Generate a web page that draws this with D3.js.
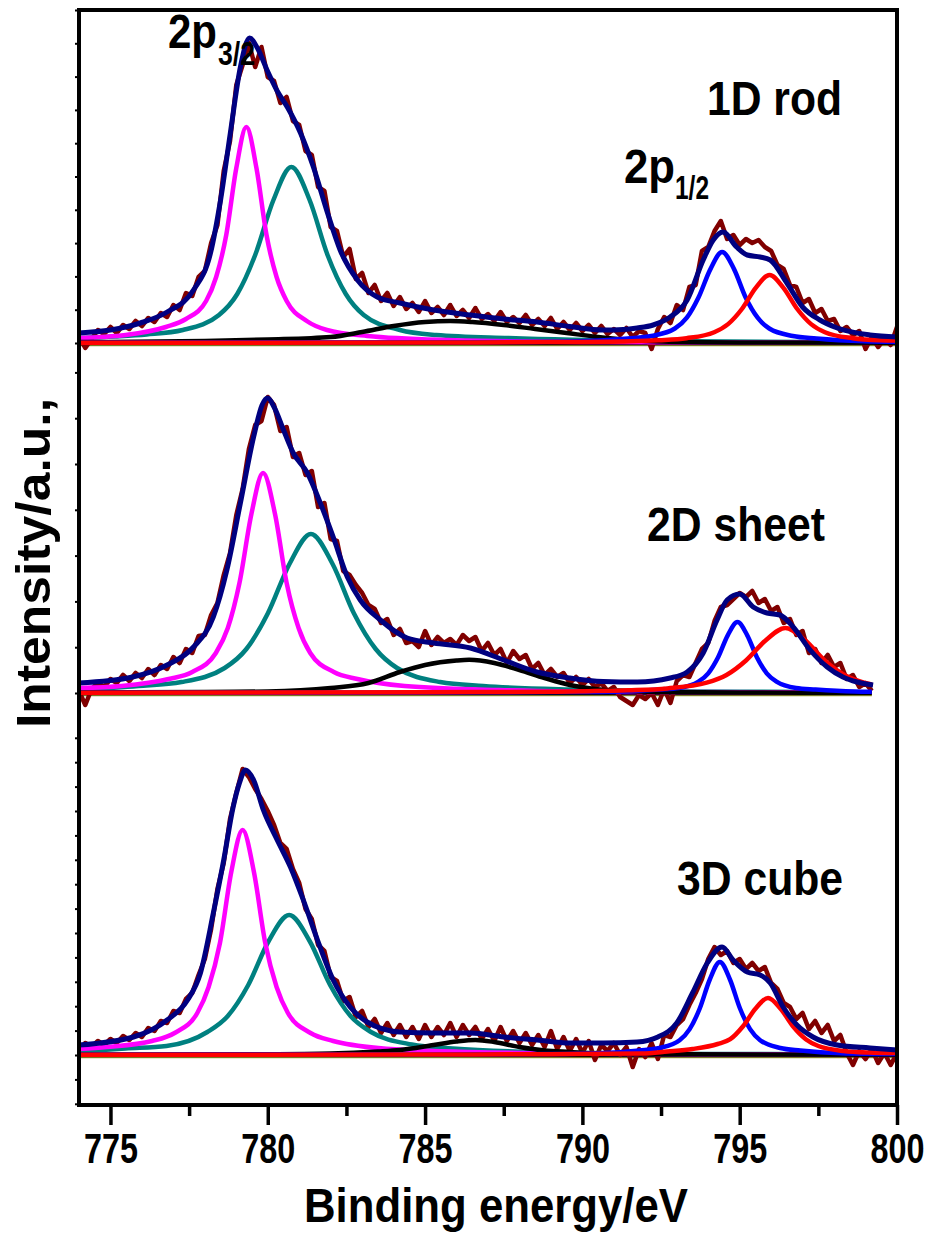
<!DOCTYPE html>
<html>
<head>
<meta charset="utf-8">
<script src="https://cdn.jsdelivr.net/npm/d3@7/dist/d3.min.js"></script>
<style>
  body { margin: 0; background: #fff; }
  text { font-family: "Liberation Sans", Arial, sans-serif; font-weight: bold; fill: #000; }
</style>
</head>
<body>
<svg id="chart" width="935" height="1236"></svg>
<script>
// ---- data (intensity in a.u., binding energy in eV) ----
var xTicksMajor = [775, 780, 785, 790, 795, 800];
var xTicksMinor = [777.5, 782.5, 787.5, 792.5, 797.5];
var panelLabels = ['1D rod', '2D sheet', '3D cube'];
var tickSteps = [33.3, 45.8, 24.4];
var rawStart = 774, rawStep = 0.2;

// measured spectra, one value per 0.2 eV from 774 eV
var rodRaw = [6,-5,4,13,9,16,10,18,14,22,
  17,25,21,30,26,38,33,50,47,66,
  72,100,118,172,202,258,278,300,276,296,
  266,262,240,246,222,218,192,188,156,152,
  116,112,86,94,64,70,50,58,42,50,
  37,46,34,40,31,42,30,36,28,38,
  27,33,25,35,24,29,22,31,21,26,
  20,28,18,24,17,25,14,21,13,20,
  12,18,10,17,9,14,8,15,6,12,
  10,-6,14,26,20,38,33,56,58,92,
  96,112,122,104,108,98,104,100,103,96,
  92,78,74,58,56,40,44,30,34,22,
  24,12,16,8,12,-6,6,-4,4,-2,
  16];
var sheetRaw = [2,-12,4,10,6,14,10,18,12,20,
  15,24,18,28,24,36,30,44,40,57,
  58,78,90,118,140,178,204,244,268,272,
  296,288,262,266,236,240,218,222,186,190,
  154,152,122,118,108,100,88,84,70,74,
  58,64,50,52,46,62,48,56,50,54,
  48,58,52,56,42,50,38,44,30,42,
  34,38,24,30,18,24,16,20,10,16,
  8,14,6,10,2,6,-4,-8,-12,-2,
  -6,0,-12,4,-10,12,18,16,30,44,
  50,72,86,88,94,100,96,102,90,94,
  82,86,70,74,58,62,40,44,30,38,
  26,30,14,18,6,10,2];
var cubeRaw = [4,12,8,14,10,16,12,19,15,22,
  18,27,24,34,32,44,42,56,62,80,
  96,126,166,192,236,262,286,278,266,256,
  244,230,212,206,186,172,146,136,110,104,
  78,74,54,58,38,44,28,36,22,32,
  20,30,18,28,16,30,18,28,20,32,
  18,30,20,28,16,26,14,28,14,24,
  12,22,10,20,8,24,6,18,4,16,
  2,14,-5,10,4,12,0,8,-12,6,
  -2,12,-4,20,18,30,36,50,62,76,
  96,108,100,104,92,96,86,92,84,88,
  72,66,52,48,36,42,26,34,22,30,
  14,20,2,-10,4,-4,6,-8,2,-10,
  2];

// fitted envelopes
var rodFit = [[774,10],[775,13],[775.95,20],[776.8,31],[777.64,53],[778.18,90],[778.5,143],[778.81,210],[779.13,276],[779.42,305],[779.67,295],[779.99,272],[780.3,252],[780.62,236],[781.04,210],[781.45,176],[781.9,130],[782.3,93],[782.85,63],[783.48,46],[784.2,40],[785.27,33],[786.44,28],[787.5,24],[788.56,21],[789.6,16.5],[790.66,13],[791.3,13.5],[791.74,15],[792.25,18],[792.79,26],[793.33,43],[793.84,83],[794.16,103],[794.47,111],[794.9,96],[795.24,88],[795.65,86],[795.97,83],[796.5,60],[797,36],[797.55,23],[798.1,15],[799.14,8],[800,6]];
var sheetFit = [[774,10],[775.7,16],[776.8,28],[777.64,46],[778.27,76],[778.7,123],[779.13,190],[779.55,256],[779.82,288],[780,295],[780.2,286],[780.5,263],[780.81,240],[781.26,220],[781.67,190],[782.08,156],[782.53,116],[782.94,93],[783.58,73],[784.43,55],[785.27,50],[786.44,45],[787.5,33],[788.56,21],[789.6,15],[790.66,11.5],[791.74,11],[792.79,15],[793.33,21],[793.84,40],[794.28,73],[794.6,93],[795,99],[795.43,86],[795.87,80],[796.28,78],[796.7,66],[797.24,43],[797.78,26],[798.28,16],[798.73,11],[799.24,8]];
var cubeFit = [[774,10],[775.73,18],[776.8,35],[777.45,55],[777.86,82],[778.27,142],[778.6,195],[778.9,248],[779.1,272],[779.29,285],[779.55,275],[779.86,245],[780.3,215],[780.72,188],[781.13,155],[781.58,115],[782.08,75],[782.62,48],[783.16,33],[784.2,23],[785.27,22],[786.44,22],[787.5,18],[788.56,15],[789.6,12],[790.66,12],[791.74,13],[792.4,18],[793,32],[793.5,62],[793.97,92],[794.44,108],[794.79,95],[795.24,83],[795.65,80],[795.97,72],[796.38,48],[796.82,30],[797.33,18],[798.1,10],[799.14,7],[800,5]];

// fitted components: 2p3/2 (a, b), satellite, 2p1/2 (c, d)
var rodA = [[774,5],[775.48,8],[776.76,16],[777.4,24],[778.04,42],[778.36,66],[778.68,108],[779,175],[779.32,216],[779.64,175],[779.96,108],[780.28,66],[780.6,42],[781.24,22],[781.88,13],[783.16,7],[785.72,3],[790,1],[800,0.3]];
var rodB = [[774,5],[775.15,6.5],[776.15,8.5],[777.3,13],[778.45,28],[779.03,49],[779.6,88],[780.18,143],[780.75,176],[781.33,143],[781.9,88],[782.48,49],[783.05,28],[784.2,13],[785.35,8],[787.65,5],[792.25,2],[800,0.5]];
var rodSat = [[774,1],[778,2],[780,3.5],[782,6],[783,11],[784,17],[785,21],[785.8,22],[786.5,21],[787.5,18],[788.5,14],[789.5,10],[790.5,6],[791.5,3],[792.5,1.5],[795,0.6],[800,0.3]];
var rodC = [[774,0.3],[785,0.8],[788.44,1],[789.94,1.7],[791.44,4.5],[792.19,7],[792.94,14.5],[793.32,25.3],[793.69,45.5],[794.07,73.9],[794.44,91],[794.82,73.9],[795.19,45.5],[795.57,25.3],[795.94,14.5],[796.69,7],[797.44,4.5],[798.94,1.7],[800,1.1]];
var rodD = [[774,0.2],[785,0.5],[789,0.9],[791.55,1.8],[792.43,2.8],[793.31,4.8],[794.19,10.8],[794.63,18.9],[795.07,34],[795.51,55.2],[795.95,68],[796.39,55.2],[796.83,34],[797.27,18.9],[797.71,10.8],[798.59,4.8],[799.47,2.8],[800,2.5]];

var sheetA = [[774,5],[775.35,7],[776.85,14],[777.6,21],[778.35,40],[778.73,65],[779.1,110],[779.48,179],[779.85,220],[780.23,179],[780.6,110],[780.98,65],[781.35,40],[782.1,21],[782.85,14],[784.35,7],[787.35,3],[792,1],[799.2,0.5]];
var sheetB = [[774,3.5],[775.89,7],[777.26,11],[778.63,25],[779.32,44],[780,79.5],[780.69,129],[781.37,159],[782.06,129],[782.74,79.5],[783.43,44],[784.11,25],[785.48,11],[786.85,7],[789.6,3.5],[795,1.2],[799.2,0.8]];
var sheetSat = [[774,0.5],[778,1],[780,1.5],[782,5],[783.2,10],[784.2,21],[785,28],[786,32.5],[786.4,33.2],[787.2,30],[788,23],[788.8,15],[789.6,8],[790.4,4],[791.2,2],[792.5,1],[795,0.5],[799.2,0.3]];
var sheetC = [[774,0.2],[785,0.5],[789,0.9],[790.59,1],[791.21,1.4],[792.45,3.5],[793.07,5],[793.69,11.3],[794,19.7],[794.31,35.5],[794.62,57.7],[794.93,71],[795.24,57.7],[795.55,35.5],[795.86,19.7],[796.17,11.3],[796.79,5],[797.41,3.5],[798.65,1.5],[799.2,1.2]];
var sheetD = [[774,0.3],[785,0.8],[789,1.3],[790.2,1.8],[791.45,2.7],[792.7,4.6],[793.95,10.3],[794.58,18],[795.2,32.5],[795.83,52.8],[796.45,65],[797.08,52.8],[797.7,32.5],[798.33,18],[798.95,10.3],[799.2,8.5]];

var cubeA = [[774,6],[774.88,8],[776.32,14],[777.04,22],[777.76,42],[778.12,68],[778.48,112],[778.84,183],[779.2,225],[779.56,183],[779.92,112],[780.28,68],[780.64,42],[781.36,22],[782.08,14],[783.52,7],[786.4,3],[792,1],[800,0.5]];
var cubeB = [[774,3.5],[775.48,6.5],[776.78,9],[778.08,23],[778.73,39],[779.38,70],[780.03,114],[780.68,140],[781.33,114],[781.98,70],[782.63,39],[783.28,23],[784.58,10.5],[785.88,6.5],[788.48,3],[794,1],[800,0.6]];
var cubeSat = [[774,0.3],[780,0.8],[782,1.5],[783.5,3.5],[784.2,5],[785.27,10],[786,13.5],[786.6,15],[787.2,13],[788,8],[788.8,4.5],[789.6,3],[790.5,1.5],[792,0.8],[800,0.3]];
var cubeC = [[774,0.2],[785,0.6],[789,1],[790.53,1.8],[791.81,4.5],[792.45,7],[793.09,14.8],[793.41,25.9],[793.73,46.5],[794.05,75.5],[794.37,93],[794.69,75.5],[795.01,46.5],[795.33,25.9],[795.65,14.8],[796.29,7],[796.93,4.5],[798.21,1.8],[800,1]];
var cubeD = [[774,0.2],[785,0.4],[789,0.8],[791.9,1.5],[792.7,3.5],[793.5,6],[794.3,11],[794.7,15.8],[795.1,28.5],[795.5,46.3],[795.9,57],[796.3,46.3],[796.7,28.5],[797.1,15.8],[797.5,9],[798.3,4],[799.1,2.5],[800,2]];

// backgrounds
var rodBg = [[774,0],[800,0]];
var sheetBg = [[774,0],[799.2,0]];
var cubeBg = [[774,0],[800,0]];
var baseOffset = -2.5;

// ---- layout ----
var svg = d3.select('#chart');
var frame = {left: 79, right: 897, top: 10, bottom: 1105};
// [top px, bottom px, zero px] of each stacked panel
var boxes = [[10, 360, 343], [360, 720, 693], [720, 1105, 1055]];
var compColors = ['#ff00ff', '#008080', '#000000', '#0000ff', '#ff0000'];

var x = d3.scaleLinear().domain([774, 800]).range([frame.left, frame.right]);

var panels = [
    {raw: rodRaw, fit: rodFit, comps: [rodB, rodA, rodSat, rodC, rodD], bg: rodBg},
    {raw: sheetRaw, fit: sheetFit, comps: [sheetB, sheetA, sheetSat, sheetC, sheetD], bg: sheetBg},
    {raw: cubeRaw, fit: cubeFit, comps: [cubeB, cubeA, cubeSat, cubeC, cubeD], bg: cubeBg}
];
var compOrder = [1, 0, 2, 3, 4]; // colour index for each comps entry

panels.forEach(function(p, i){
    var box = boxes[i];
    var y = d3.scaleLinear()
        .domain([-(box[1] - box[2]), box[2] - box[0]])
        .range([box[1], box[0]]);

    var smooth = d3.line()
        .x(function(d){ return x(d[0]); })
        .y(function(d){ return y(d[1]); })
        .curve(d3.curveMonotoneX);

    var g = svg.append('g').attr('class', 'panel');

    // background lines
    g.append('path')
        .attr('d', smooth(p.bg.map(function(d){ return [d[0], d[1] + baseOffset]; })))
        .attr('fill', 'none').attr('stroke', '#a0a030').attr('stroke-width', 1.5);
    g.append('path')
        .attr('d', smooth(p.bg))
        .attr('fill', 'none').attr('stroke', '#000').attr('stroke-width', 4.5);

    // raw spectrum
    var rawPts = p.raw.map(function(v, k){ return [rawStart + k * rawStep, v]; });
    g.append('path')
        .attr('d', d3.line()
            .x(function(d){ return x(d[0]); })
            .y(function(d){ return y(d[1]); })(rawPts))
        .attr('fill', 'none')
        .attr('stroke', '#800000')
        .attr('stroke-width', 4.5)
        .attr('stroke-linejoin', 'round');

    // components
    p.comps.forEach(function(c, k){
        g.append('path')
            .attr('d', smooth(c))
            .attr('fill', 'none')
            .attr('stroke', compColors[compOrder[k]])
            .attr('stroke-width', 4.5)
            .attr('stroke-linejoin', 'round');
    });

    // envelope
    g.append('path')
        .attr('d', smooth(p.fit))
        .attr('fill', 'none')
        .attr('stroke', '#000080')
        .attr('stroke-width', 5)
        .attr('stroke-linejoin', 'round');

    // small left ticks
    var step = tickSteps[i];
    var tv = d3.range(Math.ceil(y.domain()[0] / step), Math.floor(y.domain()[1] / step) + 1)
        .map(function(k){ return k * step; });
    var ax = svg.append('g')
        .attr('transform', 'translate(' + frame.left + ',0)')
        .call(d3.axisLeft(y).tickValues(tv).tickSize(4).tickFormat(''));
    ax.select('.domain').remove();
    ax.selectAll('line').attr('stroke-width', 2);
});

// x axis
var xAxis = svg.append('g')
    .attr('transform', 'translate(0,' + frame.bottom + ')')
    .call(d3.axisBottom(x).tickValues(xTicksMajor).tickSize(20).tickFormat(d3.format('d')));
xAxis.select('.domain').remove();
xAxis.selectAll('line').attr('stroke', '#000').attr('stroke-width', 3.5);
xAxis.selectAll('text')
    .attr('y', 58).attr('dy', 0)
    .attr('font-size', 42)
    .attr('textLength', 54)
    .attr('lengthAdjust', 'spacingAndGlyphs')
    .style('font-family', '"Liberation Sans", Arial, sans-serif')
    .style('font-weight', 'bold');

var xMinor = svg.append('g')
    .attr('transform', 'translate(0,' + frame.bottom + ')')
    .call(d3.axisBottom(x).tickValues(xTicksMinor).tickSize(11).tickFormat(''));
xMinor.select('.domain').remove();
xMinor.selectAll('line').attr('stroke', '#000').attr('stroke-width', 3.5);

// frame
svg.append('rect')
    .attr('x', frame.left).attr('y', frame.top)
    .attr('width', frame.right - frame.left)
    .attr('height', frame.bottom - frame.top)
    .attr('fill', 'none')
    .attr('stroke', '#000')
    .attr('stroke-width', 4);

function label(str, px, py, size, len, anchor){
    return svg.append('text')
        .attr('x', px).attr('y', py)
        .attr('font-size', size)
        .attr('text-anchor', anchor || 'start')
        .attr('textLength', len)
        .attr('lengthAdjust', 'spacingAndGlyphs')
        .text(str);
}

// titles
label('Binding energy/eV', 304, 1222, 49, 384);
svg.append('text')
    .attr('transform', 'translate(50,563) rotate(-90)')
    .attr('font-size', 49)
    .attr('text-anchor', 'middle')
    .attr('textLength', 330)
    .attr('lengthAdjust', 'spacingAndGlyphs')
    .text('Intensity/a.u.,');

// panel labels
label(panelLabels[0], 707, 115, 49, 135);
label(panelLabels[1], 647, 541, 49, 178);
label(panelLabels[2], 677, 895, 49, 166);

// peak labels
label('2p', 168, 48, 49, 49);
label('3/2', 218, 65, 33, 37);
label('2p', 624, 183, 49, 51);
label('1/2', 675, 199, 33, 34);
</script>
</body>
</html>
